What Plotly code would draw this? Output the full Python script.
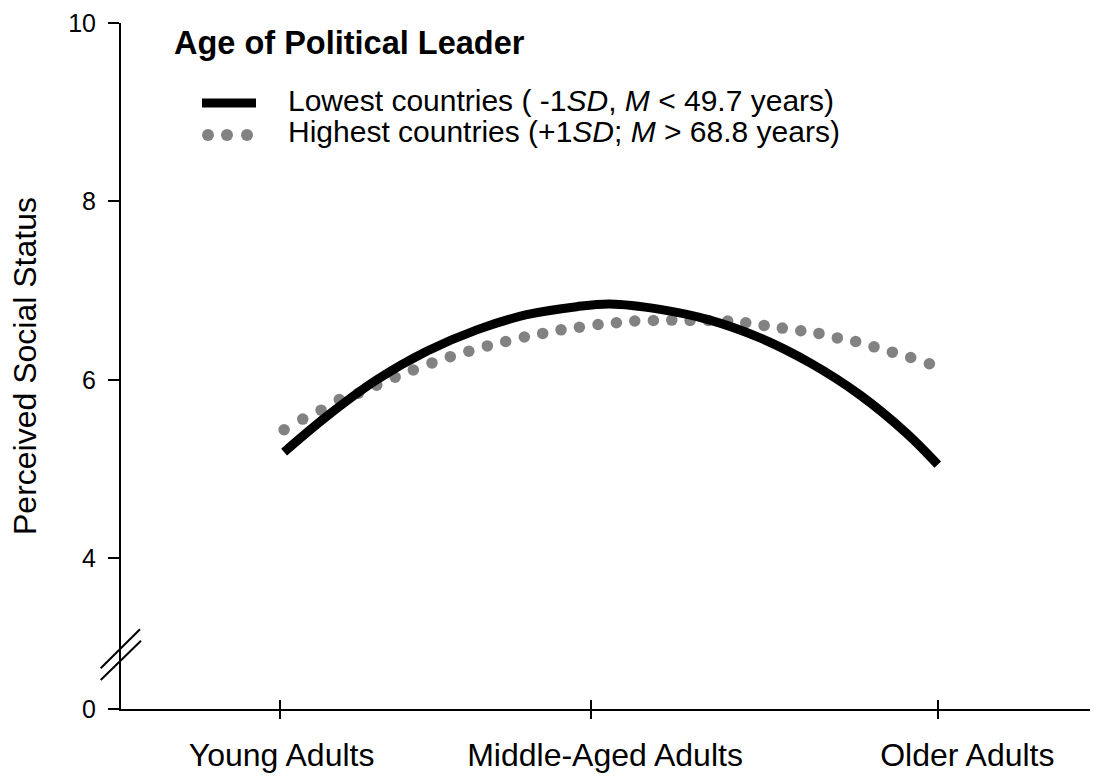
import plotly.graph_objects as go

# ---------------- data ----------------
# x is an age-like scale; y is perceived social status
lowest_x = [25.26, 28.00, 31.22, 34.43, 37.65, 40.86, 44.08, 46.22, 49.44,
            52.65, 55.87, 59.09, 62.30, 65.30, 67.30]
lowest_y = [5.19, 5.59, 6.00, 6.32, 6.56, 6.73, 6.82, 6.85, 6.79,
            6.67, 6.47, 6.19, 5.83, 5.40, 5.05]

highest_x = [25.26, 26.46, 27.64, 28.81, 30.04, 31.22, 32.40, 33.57, 34.77,
             35.95, 37.14, 38.33, 39.51, 40.71, 41.89, 43.07, 44.25, 45.45,
             46.63, 47.81, 49.01, 50.19, 51.37, 52.54, 53.79, 54.95, 56.13,
             57.30, 58.49, 59.66, 60.84, 62.02, 63.20, 64.38, 65.56, 66.76]
highest_y = [5.44, 5.56, 5.66, 5.78, 5.85, 5.94, 6.03, 6.11, 6.19,
             6.26, 6.32, 6.38, 6.43, 6.48, 6.52, 6.56, 6.59, 6.62,
             6.64, 6.66, 6.665, 6.67, 6.665, 6.665, 6.66, 6.64, 6.61,
             6.58, 6.55, 6.52, 6.47, 6.43, 6.37, 6.31, 6.25, 6.18]

group_labels = ["Young Adults", "Middle-Aged Adults", "Older Adults"]
group_tick_x = [25.0, 45.0, 67.3]        # tick marks on the x axis
group_label_x = [25.1, 45.9, 69.2]       # centres of the category labels

x_range = [14.77, 77.09]
BREAK_ZERO = 2.31                        # where "0" sits below the axis break
y_range = [BREAK_ZERO, 10.0]
y_tick_vals = [BREAK_ZERO, 4, 6, 8, 10]
y_tick_text = ["0", "4", "6", "8", "10"]

legend_title = "Age of Political Leader"
lowest_name = "Lowest countries ( -1<i>SD</i>, <i>M</i> &lt; 49.7 years)"
highest_name = "Highest countries (+1<i>SD</i>; <i>M</i> &gt; 68.8 years)"
y_title = "Perceived Social Status"

FONT = "Arial, 'Liberation Sans', sans-serif"
GREY = "#828282"

# ---------------- figure ----------------
W, H = 1096, 779
ML, MR, MT, MB = 121, 6, 23, 70
PW, PH = W - ML - MR, H - MT - MB


def px(xp):
    return (xp - ML) / PW


def py(yp):
    return (H - MB - yp) / PH


fig = go.Figure()
fig.add_trace(go.Scatter(x=highest_x, y=highest_y, mode="markers",
                         marker=dict(size=11.5, color=GREY, line=dict(width=0)),
                         name="highest", showlegend=False, hoverinfo="skip"))
fig.add_trace(go.Scatter(x=lowest_x, y=lowest_y, mode="lines",
                         line=dict(color="black", width=9, shape="spline", smoothing=1.0),
                         name="lowest", showlegend=False, hoverinfo="skip"))

axis_common = dict(showgrid=False, zeroline=False)
fig.update_layout(
    width=W, height=H,
    margin=dict(l=ML, r=MR, t=MT, b=MB, autoexpand=False),
    plot_bgcolor="white", paper_bgcolor="white",
    font=dict(family=FONT, color="black"),
    showlegend=False,
    xaxis=dict(range=x_range, tickvals=group_label_x, ticktext=group_labels,
               ticks="", showline=True, linecolor="black", linewidth=2,
               tickfont=dict(size=32, family=FONT, color="black"),
               ticklabelstandoff=17, **axis_common),
    xaxis2=dict(range=x_range, overlaying="x", anchor="y", side="bottom",
                tickvals=group_tick_x, ticks="outside", ticklen=9, tickwidth=2,
                tickcolor="black", showticklabels=False, showline=False, **axis_common),
    xaxis3=dict(range=x_range, overlaying="x", anchor="y", side="bottom",
                tickvals=group_tick_x, ticks="inside", ticklen=9, tickwidth=2,
                tickcolor="black", showticklabels=False, showline=False, **axis_common),
    yaxis=dict(range=y_range, tickvals=y_tick_vals, ticktext=y_tick_text,
               ticks="outside", ticklen=11, tickwidth=2, tickcolor="black",
               showline=True, linecolor="black", linewidth=2,
               tickfont=dict(size=25, family=FONT, color="black"),
               ticklabelstandoff=7, **axis_common),
)

# dummy (invisible) traces so the overlay axes are drawn
fig.add_trace(go.Scatter(x=[], y=[], xaxis="x2", yaxis="y", showlegend=False))
fig.add_trace(go.Scatter(x=[], y=[], xaxis="x3", yaxis="y", showlegend=False))

annotations = [
    dict(text=f"<b>{legend_title}</b>", x=px(172), y=py(43), xanchor="left", yanchor="middle",
         font=dict(size=32.5, family=FONT, color="black")),
    dict(text=lowest_name, x=px(286), y=py(100), xanchor="left", yanchor="middle",
         font=dict(size=30, family=FONT, color="black")),
    dict(text=highest_name, x=px(286), y=py(131), xanchor="left", yanchor="middle",
         font=dict(size=30, family=FONT, color="black")),
    dict(text=y_title, x=px(25), y=0.5, xanchor="center", yanchor="middle", textangle=-90,
         font=dict(size=32, family=FONT, color="black")),
]
for a in annotations:
    a.update(xref="paper", yref="paper", showarrow=False)
fig.update_layout(annotations=annotations)

shapes = [
    # legend keys
    dict(type="line", x0=px(202), x1=px(256), y0=py(103), y1=py(103),
         line=dict(color="black", width=9)),
]
for cx in (208, 227, 247):
    shapes.append(dict(type="circle", x0=px(cx - 6), x1=px(cx + 6), y0=py(135 - 6), y1=py(135 + 6),
                       fillcolor=GREY, line=dict(width=0)))
# axis-break marks
shapes.append(dict(type="line", x0=px(100.7), y0=py(668.3), x1=px(140), y1=py(629.3),
                   line=dict(color="black", width=2)))
shapes.append(dict(type="line", x0=px(100.7), y0=py(680), x1=px(141), y1=py(640.7),
                   line=dict(color="black", width=2)))
for s in shapes:
    s.update(xref="paper", yref="paper", layer="above")
fig.update_layout(shapes=shapes)

fig.write_html("out.html",
               config={"displayModeBar": False, "staticPlot": True},
               post_script="document.body.style.margin='0';"
                           "document.body.style.overflow='hidden';")
